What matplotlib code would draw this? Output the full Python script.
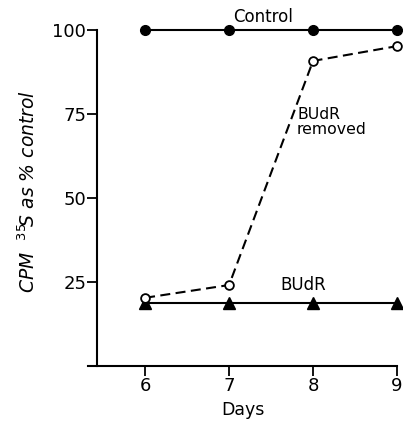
import matplotlib
matplotlib.use("Agg")
import matplotlib.pyplot as plt

# values
days = [6, 7, 8, 9]
control = [100, 100, 100, 100]
budr_removed = [20.3, 24.1, 90.8, 95.2]
budr = [18.8, 18.8, 18.8, 18.8]
y_ticks = [25, 50, 75, 100]

plt.rcParams['font.family'] = ['DejaVu Sans']

fig = plt.figure(figsize=(4.03, 4.23), dpi=100)
ax = fig.add_axes([88 / 403, 57 / 423, 309 / 403, 336 / 423])

ax.plot(days, control, color='black', lw=1.5, marker='o', ms=7,
        mfc='black', clip_on=False, zorder=3)
ax.plot(days, budr_removed, color='black', lw=1.5, ls=(0, (4.8, 2.6)),
        marker='o', ms=6.3, mfc='white', mew=1.3, clip_on=False, zorder=4)
ax.plot(days, budr, color='black', lw=1.5, marker='^', ms=9,
        mfc='black', clip_on=False, zorder=3)

ax.set_xlim(5.32, 9.0)
ax.set_ylim(0, 100)
ax.spines['top'].set_visible(False)
ax.spines['right'].set_visible(False)
ax.spines['left'].set_position(('data', 5.43))
ax.spines['left'].set_linewidth(1.5)
ax.spines['bottom'].set_linewidth(1.5)

ax.set_xticks(days)
ax.set_yticks(y_ticks)
ax.tick_params(axis='both', labelsize=13, width=1.3, length=7, direction='out')
ax.tick_params(axis='x', pad=1)
ax.tick_params(axis='y', pad=1)

ax.set_xlabel('Days', fontsize=12.5, labelpad=4)
ax.set_ylabel(r'$CPM$  $^{35}\!S$ as % control', fontsize=13.5, style='italic')
ax.yaxis.set_label_coords(-0.16, 0.52)

ax.text(7.05, 101.3, 'Control', fontsize=12, ha='left', va='bottom')
ax.text(7.81, 72.6, 'BUdR\nremoved', fontsize=11.3, ha='left', va='center',
        linespacing=1.05)
ax.text(7.61, 24.1, 'BUdR', fontsize=12, ha='left', va='center')

fig.savefig('out.png', dpi=100)
